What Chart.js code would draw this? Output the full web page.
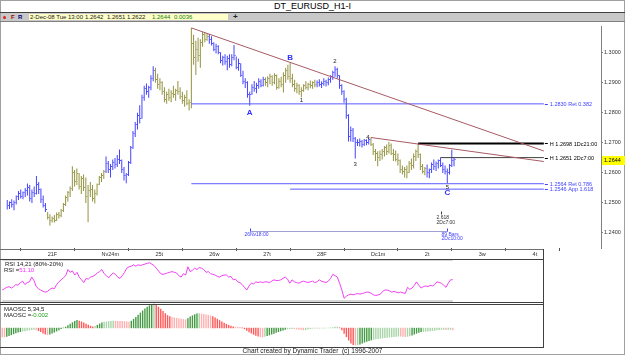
<!DOCTYPE html>
<html lang="en">
<head>
<meta charset="UTF-8">
<title>DT_EURUSD_H1-I</title>
<script src="https://cdn.jsdelivr.net/npm/chart.js"></script>
<style>
  body { margin: 0; background: #fff; font-family: "Liberation Sans", Arial, sans-serif; }
  #page { position: relative; width: 625px; height: 355px; overflow: hidden; background: #fff; }
  .abs { position: absolute; white-space: nowrap; }
  #frame { left: 0; top: 0; width: 623px; height: 353px; border: 1px solid #a0a0a0; }
  #title { left: 0; top: 1px; width: 625px; text-align: center; font-size: 9px; line-height: 10px; color: #000; }
  .hline { height: 1px; background: #404040; }
  .vline { width: 1px; background: #404040; }
  #toolbar { left: 1px; top: 13px; width: 623px; height: 8px; background: #c8c8c8; }
  #quote { left: 29px; top: 14px; width: 199px; height: 6px; background: #ffffc8; }
  .tb { top: 13px; font-size: 6px; line-height: 8px; color: #202020; }
  .panelTxt { font-size: 6px; line-height: 6px; color: #202020; }
  #footer { left: 0; top: 347px; width: 625px; text-align: center; font-size: 6.5px; line-height: 7px; color: #202020; }
</style>
</head>
<body>
<div id="page">
  <div id="frame" class="abs"></div>
  <div id="title" class="abs">DT_EURUSD_H1-I</div>
  <div class="abs hline" style="left:0;top:12px;width:625px"></div>
  <div id="toolbar" class="abs"></div>
  <div class="abs" style="left:3px;top:16px;width:3px;height:3px;border-radius:2px;background:#e02020"></div>
  <div class="abs tb" style="left:11px;color:#a00000;font-weight:bold">F</div>
  <div class="abs tb" style="left:18px;color:#000080;font-weight:bold">R</div>
  <div id="quote" class="abs"></div>
  <div class="abs tb" style="left:30px">2-Dec-08 Tue 13:00</div>
  <div class="abs tb" style="left:85px">1.2642</div>
  <div class="abs tb" style="left:107px">1.2651</div>
  <div class="abs tb" style="left:127px">1.2622</div>
  <div class="abs tb" style="left:152px;color:#108010">1.2644</div>
  <div class="abs tb" style="left:174px;color:#108010">0.0036</div>
  <div class="abs tb" style="left:233px;font-size:8px;font-weight:bold">+</div>
  <div class="abs hline" style="left:0;top:21px;width:625px;background:#808080"></div>

  <canvas id="mainChart" class="abs" width="625" height="239" style="left:0;top:21px"></canvas>

  <div class="abs hline" style="left:0;top:249px;width:543px;background:#707070"></div>
  <canvas id="rsiChart" class="abs" width="543" height="44" style="left:0;top:259px"></canvas>
  <canvas id="oscChart" class="abs" width="543" height="44" style="left:0;top:303px"></canvas>
  <div class="abs hline" style="left:0;top:259px;width:543px"></div>
  <div class="abs hline" style="left:0;top:302px;width:543px"></div>
  <div class="abs hline" style="left:0;top:304px;width:543px"></div>
  <div class="abs hline" style="left:0;top:347px;width:543px"></div>
  <div class="abs vline" style="left:543px;top:249px;height:99px"></div>

  <div class="abs panelTxt" style="left:5px;top:261px">RSI 14,21 (80%-20%)</div>
  <div class="abs panelTxt" style="left:4px;top:267px">RSI =<span style="color:#ff30ff">51.10</span></div>
  <div class="abs panelTxt" style="left:4px;top:306px">MAOSC 5,34,5</div>
  <div class="abs panelTxt" style="left:4px;top:312px">MAOSC =<span style="color:#20a020">-0.002</span></div>
  <div id="footer" class="abs">Chart created by Dynamic Trader&nbsp; (c) 1996-2007</div>
</div>

<script>
// EURUSD hourly bars, first bar = Nov 20 06:00 (hour -18, hour 0 = Nov 21 00:00, weekend skipped)
const firstHour = -18;

const highs = [
  1.2510,1.2505,1.2512,1.2508,1.2525,1.2540,1.2545,1.2538,1.2550,1.2565,
  1.2560,1.2545,1.2555,1.2590,1.2570,1.2548,1.2525,1.2500,1.2470,1.2462,
  1.2455,1.2460,1.2468,1.2470,1.2480,1.2500,1.2525,1.2540,1.2555,1.2622,
  1.2610,1.2615,1.2600,1.2590,1.2595,1.2585,1.2560,1.2570,1.2560,1.2545,
  1.2565,1.2590,1.2600,1.2610,1.2655,1.2640,1.2630,1.2645,1.2650,1.2660,
  1.2678,1.2645,1.2620,1.2600,1.2640,1.2690,1.2740,1.2770,1.2800,1.2825,
  1.2860,1.2890,1.2898,1.2890,1.2925,1.2955,1.2950,1.2930,1.2915,1.2905,
  1.2885,1.2870,1.2880,1.2875,1.2890,1.2880,1.2906,1.2885,1.2870,1.2860,
  1.2875,1.2845,1.3083,1.3060,1.3040,1.3050,1.3045,1.3070,1.3068,1.3065,
  1.3063,1.3055,1.3035,1.3030,1.3025,1.3002,1.2990,1.2995,1.2990,1.2995,
  1.2995,1.3026,1.2988,1.2980,1.2965,1.2940,1.2915,1.2905,1.2870,1.2895,
  1.2906,1.2900,1.2915,1.2912,1.2920,1.2918,1.2922,1.2930,1.2925,1.2932,
  1.2928,1.2915,1.2920,1.2935,1.2950,1.2960,1.2968,1.2930,1.2910,1.2900,
  1.2895,1.2885,1.2895,1.2905,1.2900,1.2908,1.2905,1.2910,1.2908,1.2912,
  1.2905,1.2915,1.2910,1.2918,1.2925,1.2940,1.2955,1.2950,1.2925,1.2895,
  1.2875,1.2850,1.2795,1.2755,1.2750,1.2720,1.2712,1.2715,1.2710,1.2713,
  1.2712,1.2716,1.2718,1.2700,1.2680,1.2672,1.2675,1.2680,1.2690,1.2695,
  1.2703,1.2698,1.2680,1.2675,1.2665,1.2645,1.2625,1.2620,1.2625,1.2640,
  1.2648,1.2665,1.2678,1.2698,1.2665,1.2630,1.2620,1.2628,1.2615,1.2635,
  1.2645,1.2638,1.2645,1.2651,1.2635,1.2625,1.2615,1.2630,1.2677,1.2651
];
const lows = [
  1.2478,1.2480,1.2485,1.2476,1.2495,1.2510,1.2515,1.2512,1.2520,1.2525,
  1.2505,1.2500,1.2520,1.2528,1.2530,1.2500,1.2485,1.2470,1.2445,1.2425,
  1.2435,1.2435,1.2440,1.2448,1.2452,1.2470,1.2490,1.2505,1.2520,1.2540,
  1.2555,1.2560,1.2545,1.2530,1.2540,1.2500,1.2436,1.2520,1.2505,1.2498,
  1.2525,1.2560,1.2570,1.2580,1.2600,1.2600,1.2585,1.2610,1.2615,1.2620,
  1.2630,1.2600,1.2575,1.2566,1.2590,1.2630,1.2680,1.2720,1.2745,1.2765,
  1.2780,1.2840,1.2860,1.2850,1.2875,1.2905,1.2900,1.2880,1.2875,1.2860,
  1.2835,1.2830,1.2840,1.2835,1.2850,1.2840,1.2860,1.2845,1.2830,1.2820,
  1.2825,1.2808,1.2815,1.2960,1.2926,1.2970,1.2950,1.3020,1.3035,1.3040,
  1.3030,1.3024,1.3005,1.2998,1.2995,1.2965,1.2958,1.2960,1.2942,1.2950,
  1.2955,1.2975,1.2945,1.2940,1.2920,1.2895,1.2883,1.2850,1.2824,1.2860,
  1.2870,1.2865,1.2880,1.2885,1.2888,1.2890,1.2885,1.2895,1.2890,1.2895,
  1.2877,1.2880,1.2885,1.2868,1.2900,1.2910,1.2900,1.2885,1.2870,1.2865,
  1.2860,1.2852,1.2870,1.2878,1.2875,1.2882,1.2880,1.2885,1.2885,1.2888,
  1.2883,1.2890,1.2888,1.2892,1.2900,1.2910,1.2920,1.2915,1.2880,1.2860,
  1.2834,1.2780,1.2705,1.2705,1.2703,1.2648,1.2690,1.2688,1.2685,1.2690,
  1.2692,1.2695,1.2690,1.2660,1.2640,1.2622,1.2640,1.2645,1.2655,1.2660,
  1.2665,1.2660,1.2640,1.2638,1.2625,1.2600,1.2595,1.2585,1.2582,1.2600,
  1.2610,1.2615,1.2640,1.2650,1.2610,1.2598,1.2592,1.2585,1.2582,1.2600,
  1.2610,1.2606,1.2615,1.2620,1.2600,1.2595,1.2566,1.2595,1.2620,1.2622
];
const closes = [
  1.2490,1.2500,1.2495,1.2502,1.2520,1.2530,1.2522,1.2535,1.2540,1.2550,
  1.2515,1.2535,1.2530,1.2560,1.2545,1.2510,1.2492,1.2478,1.2450,1.2440,
  1.2448,1.2442,1.2460,1.2458,1.2475,1.2495,1.2518,1.2535,1.2548,1.2600,
  1.2570,1.2598,1.2555,1.2580,1.2550,1.2520,1.2540,1.2545,1.2515,1.2530,
  1.2560,1.2585,1.2592,1.2605,1.2630,1.2610,1.2620,1.2635,1.2628,1.2645,
  1.2640,1.2610,1.2590,1.2595,1.2635,1.2685,1.2730,1.2760,1.2790,1.2780,
  1.2850,1.2880,1.2870,1.2885,1.2915,1.2940,1.2910,1.2895,1.2900,1.2870,
  1.2845,1.2860,1.2850,1.2865,1.2860,1.2875,1.2870,1.2855,1.2840,1.2850,
  1.2830,1.2835,1.3030,1.2985,1.3010,1.2990,1.3035,1.3060,1.3045,1.3055,
  1.3045,1.3030,1.3010,1.3020,1.3000,1.2975,1.2985,1.2970,1.2980,1.2960,
  1.2985,1.2990,1.2950,1.2965,1.2925,1.2905,1.2900,1.2860,1.2860,1.2885,
  1.2880,1.2890,1.2905,1.2890,1.2910,1.2900,1.2915,1.2920,1.2900,1.2925,
  1.2885,1.2905,1.2895,1.2925,1.2940,1.2920,1.2915,1.2895,1.2880,1.2890,
  1.2870,1.2875,1.2890,1.2885,1.2895,1.2890,1.2900,1.2895,1.2900,1.2895,
  1.2898,1.2905,1.2900,1.2910,1.2920,1.2935,1.2945,1.2925,1.2890,1.2870,
  1.2845,1.2790,1.2720,1.2740,1.2715,1.2700,1.2700,1.2705,1.2695,1.2708,
  1.2700,1.2710,1.2695,1.2670,1.2665,1.2650,1.2660,1.2670,1.2685,1.2670,
  1.2690,1.2665,1.2660,1.2645,1.2640,1.2610,1.2605,1.2612,1.2600,1.2630,
  1.2625,1.2655,1.2670,1.2660,1.2620,1.2605,1.2615,1.2600,1.2610,1.2628,
  1.2620,1.2630,1.2640,1.2625,1.2610,1.2605,1.2600,1.2625,1.2640,1.2644
];

// DT trend colouring: hour where each trend run starts, b = blue run, o = olive run
const trendStarts = [-18, 0, 26, 48, 72, 97, 120, 144, 169];
const trendRuns   = ['b', 'o', 'b', 'o', 'b', 'o', 'b', 'o', 'b'];

const rsi = [
  36,38,40,41,39,41,44,43,47,49,
  44,47,48,55,50,41,38,36,34,33,
  34,37,39,38,44,48,51,54,57,66,
  62,64,58,62,55,51,47,53,52,55,
  56,58,61,63,66,60,57,54,58,61,
  59,55,53,57,62,68,70,71,73,71,
  73,72,73,74,75,76,74,72,68,64,
  60,59,60,61,62,63,62,61,57,55,
  60,58,70,63,65,68,66,69,68,66,
  62,63,60,59,58,56,55,57,58,58,
  55,56,51,52,48,47,44,40,36,42,
  46,45,48,47,48,47,48,48,47,49,
  51,50,50,51,53,55,52,46,51,48,
  47,46,48,49,48,47,48,49,47,48,
  51,49,48,47,49,53,59,57,55,46,
  36,24,27,29,30,29,30,31,30,31,
  32,33,33,31,29,28,29,30,34,36,
  36,35,33,34,33,32,33,32,31,40,
  37,39,43,48,43,39,41,42,41,43,
  42,44,48,47,46,43,40,46,51,51.1
];
const rsiBands = [80, 20];

// MAOSC 5,34,5 in thousandths
const maoscMilli = [
  -9.0,-9.2,-8.5,-7.8,-6.9,-6.0,-5.1,-4.4,-3.8,-3.3,
  -3.0,-2.6,-2.2,-1.8,-1.5,-2.0,-2.8,-3.9,-5.2,-6.4,
  -7.0,-6.3,-5.4,-4.3,-3.2,-2.0,-0.8,0.2,1.0,2.6,
  4.1,5.5,6.8,7.8,7.1,6.3,5.2,4.0,3.0,2.0,
  1.3,1.9,2.8,4.2,5.4,6.0,6.3,6.6,6.9,7.1,
  7.0,6.9,6.8,6.7,6.6,6.4,6.1,7.0,8.9,10.8,
  13.0,15.2,17.3,19.4,21.0,22.5,23.6,24.2,23.0,21.1,
  19.0,16.8,14.6,12.6,11.5,10.9,10.4,10.0,9.6,9.1,
  8.7,8.3,9.5,11.2,12.4,13.5,14.3,14.5,14.2,13.8,
  13.4,12.9,12.3,11.5,10.4,9.0,7.6,6.2,5.0,3.9,
  2.9,2.0,1.4,1.2,1.1,0.9,0.2,-1.0,-2.6,-4.0,
  -5.3,-6.5,-7.6,-8.4,-9.0,-9.2,-8.6,-7.9,-7.1,-6.3,
  -5.5,-4.6,-3.8,-3.0,-2.2,-1.5,-1.1,-0.9,-0.8,-0.9,
  -1.2,-1.5,-1.8,-2.0,-1.9,-1.4,-0.8,-0.4,-0.3,-0.2,
  -0.3,-0.2,-0.2,-0.1,0.1,0.3,0.6,1.0,1.2,0.4,
  -2.0,-5.5,-9.0,-12.4,-15.2,-16.8,-17.2,-17.0,-16.2,-15.3,
  -14.4,-13.5,-12.8,-12.1,-11.5,-11.1,-10.8,-10.5,-10.2,-9.9,
  -9.6,-9.3,-9.0,-8.8,-8.5,-8.3,-8.4,-8.6,-8.8,-8.5,
  -8.0,-7.2,-6.3,-5.4,-4.6,-3.9,-3.6,-3.4,-3.3,-3.1,
  -2.8,-2.5,-2.1,-1.7,-1.6,-1.5,-1.7,-1.6,-1.6,-2.0
];

// axes
const dayHours  = [0, 24, 48, 72, 96, 120, 144, 168, 192, 216];
const dayLabels = ['21F', 'Nv24m', '25t', '26w', '27t', '28F', 'Dc1m', '2t', '3w', '4t'];
const priceTicks = [1.24, 1.25, 1.26, 1.27, 1.28, 1.29, 1.30];
const lastPrice = 1.2644;

// drawing tools
const trendFrom = [[64, 1.3083], [144, 1.2718]];
const trendTo   = [[221, 1.2673], [221, 1.2638]];
const levelPrices = [1.2830, 1.2564, 1.2546, 1.2698, 1.2651];
const levelFrom   = [64, 64, 108, 165, 175];
const levelEnd    = 221;
const levelNames  = ['1.2830 Ret 0.382', '1.2564 Ret 0.786', '1.2546 App 1.618', 'H 1.2698 1Dc21:00', 'H 1.2651 2Dc7:00'];
const waveNames  = ['A', 'B', '1', '2', '3', '4', '5', 'C'];
const waveHours  = [90, 108, 113, 128, 137, 144, 178, 178];
const wavePrices = [1.2824, 1.2968, 1.2852, 1.2955, 1.2648, 1.2718, 1.2566, 1.2566];
const cycleFrom = 90, cycleTo = 178, cycleProj = 175;
const cycleTexts = ['26Nv18:00', '89 Bars', '2Dc10:00', '2.618', '2Dc7:00'];

// ---- layout helpers
const PX_PER_HOUR = 2.264;
const X_MIN = -19;
const hours = highs.map((_, i) => firstHour + i);
const BLUE = '#4444ff', OLIVE = '#92923e';

function runColor(h) {
  let k = 0;
  for (let j = 0; j < trendStarts.length; j++) if (h >= trendStarts[j]) k = j;
  return trendRuns[k] === 'b' ? BLUE : OLIVE;
}
function tickImage(color) {
  const c = document.createElement('canvas');
  c.width = 5; c.height = 1;
  const g = c.getContext('2d');
  g.fillStyle = color;
  g.fillRect(3, 0, 1, 1);
  return c;
}
const tickBlue = tickImage(BLUE), tickOlive = tickImage(OLIVE);

Chart.defaults.font.family = '"Liberation Sans", Arial, sans-serif';
Chart.defaults.animation = false;

const levelStyle = [
  { c: '#5a5aff', w: 1, t: '#4040ff' },
  { c: '#5a5aff', w: 1, t: '#4040ff' },
  { c: '#5a5aff', w: 1, t: '#4040ff' },
  { c: '#000000', w: 2, t: '#000000' },
  { c: '#404040', w: 1, t: '#000000' }
];

const lineSets = [];
trendFrom.forEach((p, i) => lineSets.push({
  type: 'line', data: [{ x: p[0], y: p[1] }, { x: trendTo[i][0], y: trendTo[i][1] }],
  borderColor: '#a85a64', borderWidth: 1, pointRadius: 0
}));
levelPrices.forEach((v, i) => lineSets.push({
  type: 'line', data: [{ x: levelFrom[i], y: v }, { x: levelEnd, y: v }],
  borderColor: levelStyle[i].c, borderWidth: levelStyle[i].w, pointRadius: 0
}));

const overlay = {
  id: 'overlay',
  afterDatasetsDraw(chart) {
    const { ctx, scales: { x, y }, chartArea } = chart;
    ctx.save();
    // level labels at the right end of each line
    ctx.font = '5.5px "Liberation Sans"';
    ctx.textBaseline = 'middle';
    ctx.textAlign = 'left';
    levelPrices.forEach((v, i) => {
      const px = x.getPixelForValue(levelEnd), py = y.getPixelForValue(v);
      ctx.fillStyle = levelStyle[i].t;
      ctx.fillRect(px + 1, Math.round(py), 3, 1);
      ctx.fillText(levelNames[i], px + 6, py + 0.5);
    });
    // wave labels
    const dy = [7, -5, 3, -5, 6, 0, 4, 10], dx = [0, 0, 0, 0, 0, -3, 0, 0];
    waveNames.forEach((n, i) => {
      const big = /[ABC]/.test(n);
      ctx.font = big ? 'bold 8px "Liberation Sans"' : '6px "Liberation Sans"';
      ctx.fillStyle = big ? '#3030ff' : '#202020';
      ctx.textAlign = 'center';
      ctx.fillText(n, x.getPixelForValue(waveHours[i]) + dx[i], y.getPixelForValue(wavePrices[i]) + dy[i]);
    });
    // time cycle ruler
    const yl = Math.round(chartArea.bottom - 17) + 0.5;
    const x1 = Math.round(x.getPixelForValue(cycleFrom)) + 0.5, x2 = Math.round(x.getPixelForValue(cycleTo)) + 0.5;
    const x3 = Math.round(x.getPixelForValue(cycleProj)) + 0.5;
    ctx.strokeStyle = '#a0a0d0';
    ctx.lineWidth = 1;
    ctx.beginPath();
    ctx.moveTo(x1, yl); ctx.lineTo(x2, yl);
    ctx.stroke();
    ctx.strokeStyle = '#4040ff';
    ctx.beginPath();
    ctx.moveTo(x1, yl - 3); ctx.lineTo(x1, yl);
    ctx.moveTo(x2, yl - 3); ctx.lineTo(x2, yl);
    ctx.stroke();
    ctx.strokeStyle = '#404040';
    ctx.beginPath();
    ctx.moveTo(x3, yl - 20); ctx.lineTo(x3, yl - 17);
    ctx.stroke();
    ctx.font = '5px "Liberation Sans"';
    ctx.fillStyle = '#4040ff';
    ctx.textAlign = 'center';
    ctx.fillText(cycleTexts[0], x1 + 6, yl + 3.5);
    ctx.textAlign = 'left';
    ctx.fillText(cycleTexts[1], x2 - 6, yl + 3.5);
    ctx.fillText(cycleTexts[2], x2 - 6, yl + 7.5);
    ctx.fillStyle = '#303030';
    ctx.fillText(cycleTexts[3], x3 - 5, yl - 13.5);
    ctx.fillText(cycleTexts[4], x3 - 5, yl - 9);
    // last price box on the price axis
    const ly = y.getPixelForValue(lastPrice);
    ctx.fillStyle = '#ffff00';
    ctx.fillRect(chartArea.right + 1, Math.round(ly) - 4, 24, 9);
    ctx.fillStyle = '#000';
    ctx.font = '5.5px "Liberation Sans"';
    ctx.fillText(lastPrice.toFixed(4), chartArea.right + 3, ly + 0.5);
    ctx.restore();
  }
};

// price per pixel: 1.30 at y=49.3, 1.24 at y=232.7 ; chart area y 22..248
const PRICE_PER_PX = 0.06 / 183.4;
new Chart(document.getElementById('mainChart'), {
  type: 'bar',
  data: {
    datasets: [
      ...lineSets,
      {
        type: 'scatter',
        data: hours.map((h, i) => ({ x: h, y: closes[i] })),
        pointStyle: ctx => runColor(hours[ctx.dataIndex]) === BLUE ? tickBlue : tickOlive,
        pointRadius: 2
      },
      {
        type: 'bar',
        data: hours.map((h, i) => ({ x: h, y: [lows[i], highs[i]] })),
        backgroundColor: ctx => runColor(hours[ctx.dataIndex]),
        barThickness: 1,
        inflateAmount: 0,
        grouped: false
      }
    ]
  },
  options: {
    responsive: false,
    layout: { padding: { top: 1, left: 0, right: 0, bottom: 0 } },
    plugins: { legend: { display: false }, tooltip: { enabled: false } },
    scales: {
      x: {
        type: 'linear', offset: false,
        min: X_MIN, max: X_MIN + 601 / PX_PER_HOUR,
        afterFit: s => { s.height = 12; },
        afterBuildTicks: s => { s.ticks = dayHours.map(v => ({ value: v })); },
        grid: { display: true, drawOnChartArea: false, tickLength: 3, color: '#505050' },
        border: { display: false },
        ticks: {
          autoSkip: false, maxRotation: 0, align: 'start', padding: 0,
          font: { size: 5.5 }, color: '#303030',
          callback: v => dayLabels[dayHours.indexOf(v)]
        }
      },
      y: {
        type: 'linear', position: 'right',
        min: 1.24 - (248 - 232.7) * PRICE_PER_PX,
        max: 1.30 + (49.3 - 22) * PRICE_PER_PX,
        afterFit: s => { s.width = 24; },
        afterBuildTicks: s => { s.ticks = priceTicks.map(v => ({ value: v })); },
        grid: { drawOnChartArea: false, tickLength: 2, color: '#808080' },
        border: { display: true, color: '#808080' },
        ticks: { padding: 1, font: { size: 5.5 }, color: '#303030', callback: v => v.toFixed(4) }
      }
    }
  },
  plugins: [overlay]
});

// RSI panel: 80 at y=260, 20 at y=301 (page), canvas y 259..303
const RSI_PER_PX = 60 / 41;
new Chart(document.getElementById('rsiChart'), {
  type: 'line',
  data: {
    datasets: [
      {
        data: hours.map((h, i) => ({ x: h, y: rsi[i] })),
        borderColor: '#f040f0', borderWidth: 1, pointRadius: 0
      },
      ...rsiBands.map(b => ({
        data: [{ x: hours[0], y: b }, { x: hours[hours.length - 1], y: b }],
        borderColor: '#c8c8c8', borderWidth: 1.5, pointRadius: 0
      }))
    ]
  },
  options: {
    responsive: false,
    layout: { padding: 0 },
    plugins: { legend: { display: false }, tooltip: { enabled: false } },
    scales: {
      x: { type: 'linear', display: false, min: X_MIN, max: X_MIN + 543 / PX_PER_HOUR },
      y: { display: false, min: 20 - 2 * RSI_PER_PX, max: 80 + 1 * RSI_PER_PX }
    }
  }
});

// MAOSC panel: zero at page y=328, canvas y 303..347, 1px = 0.001
function oscColor(i) {
  const d = i > 0 ? maoscMilli[i] - maoscMilli[i - 1] : -0.2;
  const light = Math.abs(d) < 0.6;
  if (d >= 0) return light ? '#a8d4a8' : '#449a44';
  return light ? '#ffb0b0' : '#ff5858';
}
new Chart(document.getElementById('oscChart'), {
  type: 'bar',
  data: {
    datasets: [{
      data: hours.map((h, i) => ({ x: h, y: maoscMilli[i] / 1000 })),
      backgroundColor: ctx => oscColor(ctx.dataIndex),
      barThickness: 1,
      inflateAmount: 0.2
    }]
  },
  options: {
    responsive: false,
    layout: { padding: 0 },
    plugins: { legend: { display: false }, tooltip: { enabled: false } },
    scales: {
      x: { type: 'linear', offset: false, display: false, min: X_MIN, max: X_MIN + 543 / PX_PER_HOUR },
      y: { display: false, min: -(347 - 328) * 0.001, max: (328 - 303) * 0.001 }
    }
  }
});
</script>
</body>
</html>
